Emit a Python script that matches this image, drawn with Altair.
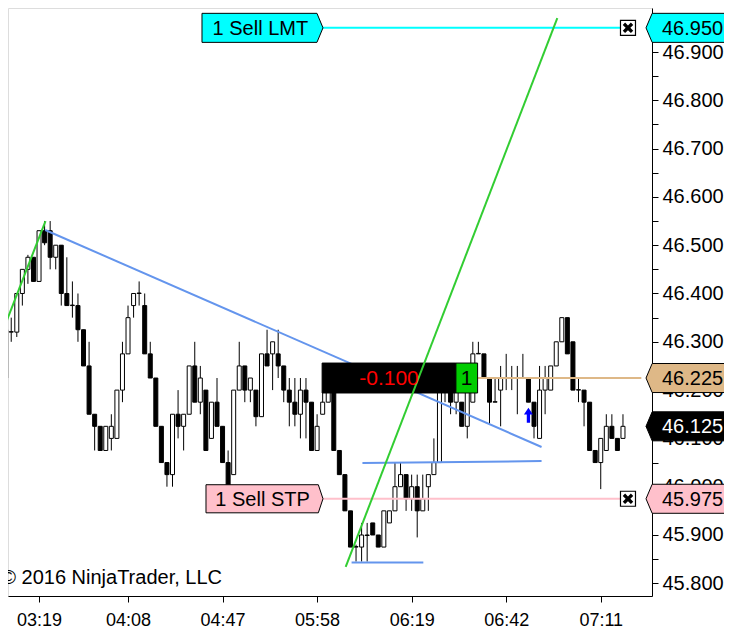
import json
import altair as alt
import pandas as pd

# ---------------- candle data (bar index, open, high, low, close) ----------------
bar_index = list(range(112))
opens = [46.225, 46.32, 46.32, 46.40, 46.45, 46.475, 46.425, 46.53, 46.53, 46.475,
         46.50, 46.40, 46.375, 46.375, 46.325, 46.25, 46.15, 46.125, 46.075, 46.10,
         46.10, 46.20, 46.275, 46.375, 46.40, 46.375, 46.275, 46.225, 46.125, 46.05,
         46.025, 46.15, 46.125, 46.15, 46.25, 46.175, 46.20, 46.10, 46.175, 46.125,
         46.05, 46.025, 46.20, 46.25, 46.20, 46.20, 46.145, 46.275, 46.275, 46.275,
         46.25, 46.20, 46.175, 46.15, 46.20, 46.175, 46.075, 46.15, 46.175, 46.225,
         46.075, 46.025, 45.95, 45.875, 45.875, 45.90, 45.925, 45.90, 45.875, 45.925,
         45.95, 46.00, 46.025, 45.975, 46.00, 45.95, 46.00, 46.025, 46.05, 46.225,
         46.20, 46.175, 46.175, 46.125, 46.175, 46.275, 46.275, 46.225, 46.175, 46.20,
         46.225, 46.225, 46.225, 46.225, 46.225, 46.175, 46.10, 46.20, 46.20, 46.25,
         46.30, 46.35, 46.30, 46.20, 46.20, 46.175, 46.075, 46.05, 46.075, 46.125,
         46.10, 46.10]
highs = [46.33, 46.35, 46.40, 46.45, 46.48, 46.475, 46.53, 46.55, 46.55, 46.50,
         46.50, 46.475, 46.425, 46.40, 46.325, 46.30, 46.15, 46.125, 46.125, 46.15,
         46.20, 46.30, 46.375, 46.40, 46.425, 46.40, 46.30, 46.225, 46.125, 46.05,
         46.15, 46.20, 46.15, 46.25, 46.30, 46.25, 46.20, 46.175, 46.225, 46.125,
         46.075, 46.20, 46.30, 46.25, 46.225, 46.20, 46.275, 46.325, 46.30, 46.325,
         46.25, 46.225, 46.225, 46.225, 46.225, 46.175, 46.15, 46.20, 46.225, 46.25,
         46.075, 46.025, 45.95, 45.88, 45.925, 45.925, 45.925, 45.90, 45.95, 45.95,
         46.05, 46.05, 46.025, 46.025, 46.025, 46.025, 46.025, 46.10, 46.25, 46.25,
         46.225, 46.225, 46.175, 46.25, 46.30, 46.30, 46.275, 46.225, 46.225, 46.25,
         46.275, 46.25, 46.25, 46.275, 46.225, 46.175, 46.25, 46.25, 46.25, 46.30,
         46.35, 46.35, 46.30, 46.225, 46.20, 46.175, 46.075, 46.10, 46.15, 46.15,
         46.10, 46.15]
lows = [46.20, 46.30, 46.31, 46.375, 46.42, 46.425, 46.425, 46.50, 46.45, 46.45,
        46.375, 46.375, 46.35, 46.30, 46.25, 46.15, 46.075, 46.075, 46.075, 46.075,
        46.10, 46.175, 46.275, 46.35, 46.375, 46.275, 46.225, 46.125, 46.05, 46.00,
        46.00, 46.10, 46.075, 46.15, 46.175, 46.15, 46.075, 46.10, 46.125, 46.05,
        46.00, 46.025, 46.20, 46.175, 46.175, 46.125, 46.145, 46.25, 46.20, 46.225,
        46.175, 46.125, 46.125, 46.10, 46.10, 46.075, 46.075, 46.15, 46.175, 46.075,
        46.025, 45.95, 45.875, 45.845, 45.845, 45.845, 45.90, 45.875, 45.875, 45.925,
        45.95, 46.00, 45.95, 45.95, 45.895, 45.95, 45.95, 46.025, 46.05, 46.175,
        46.15, 46.15, 46.125, 46.10, 46.175, 46.275, 46.225, 46.13, 46.175, 46.125,
        46.20, 46.20, 46.15, 46.225, 46.175, 46.10, 46.10, 46.15, 46.20, 46.25,
        46.30, 46.275, 46.20, 46.175, 46.125, 46.075, 46.05, 45.995, 46.075, 46.10,
        46.075, 46.10]
closes = [46.325, 46.321, 46.40, 46.45, 46.475, 46.425, 46.53, 46.505, 46.475, 46.50,
          46.40, 46.375, 46.376, 46.325, 46.25, 46.15, 46.125, 46.075, 46.125, 46.125,
          46.20, 46.275, 46.35, 46.40, 46.401, 46.275, 46.225, 46.125, 46.05, 46.025,
          46.15, 46.125, 46.15, 46.25, 46.175, 46.225, 46.075, 46.175, 46.125, 46.05,
          46.00, 46.20, 46.25, 46.20, 46.225, 46.145, 46.275, 46.25, 46.30, 46.25,
          46.20, 46.175, 46.15, 46.20, 46.175, 46.075, 46.125, 46.175, 46.20, 46.075,
          46.025, 45.95, 45.875, 45.876, 45.90, 45.899, 45.90, 45.875, 45.95, 45.95,
          46.00, 46.025, 45.975, 46.00, 45.95, 45.975, 46.025, 46.05, 46.225, 46.20,
          46.175, 46.20, 46.125, 46.20, 46.275, 46.276, 46.225, 46.175, 46.176, 46.225,
          46.226, 46.226, 46.226, 46.226, 46.175, 46.125, 46.20, 46.225, 46.25, 46.30,
          46.35, 46.275, 46.20, 46.201, 46.175, 46.075, 46.05, 46.10, 46.125, 46.10,
          46.075, 46.125]

# ---------------- axis labels ----------------
tick_bars = [6, 22, 39, 56, 73, 90, 107]
tick_times = ["03:19", "04:08", "04:47", "05:58", "06:19", "06:42", "07:11"]
price_ticks = [45.80, 45.85, 45.90, 45.95, 46.00, 46.05, 46.10, 46.15, 46.20, 46.25,
               46.30, 46.35, 46.40, 46.45, 46.50, 46.55, 46.60, 46.65, 46.70, 46.75,
               46.80, 46.85, 46.90, 46.95]

# ---------------- drawing objects ----------------
trend_color = ["limegreen", "limegreen", "cornflowerblue", "cornflowerblue", "cornflowerblue"]
trend_x1 = [-0.1, 61.14, 7.11, 64.15, 62.2]
trend_y1 = [46.335, 45.834, 46.5315, 46.049, 45.843]
trend_x2 = [7.16, 99.19, 96.36, 96.36, 75.1]
trend_y2 = [46.55, 46.97, 46.0822, 46.053, 45.843]

order_price = [46.950, 45.975, 46.225]
order_color = ["#00FFFF", "#FFC0CB", "#DEB887"]
order_x1 = [56.9, 56.9, 84.86]
order_x2 = [112.0, 112.0, 114.3]

order_label_text = ["1 Sell LMT", "1 Sell STP"]
order_label_price = [46.950, 45.975]
order_label_center = [46.18, 46.54]
order_label_textx = [37.2, 37.7]
order_label_fill = ["#00FFFF", "#FFC0CB"]

close_box_bar = [111.9, 111.9]
close_box_price = [46.950, 45.975]

flag_price = [46.950, 46.225, 46.125, 45.975]
flag_text = ["46.950", "46.225", "46.125", "45.975"]
flag_fill = ["#00FFFF", "#DEB887", "#000000", "#FFC0CB"]
flag_textcolor = ["black", "black", "white", "black"]

pnl_x = [56.9, 80.96]
pnl_x2 = [80.96, 84.86]
pnl_fill = ["black", "#00CC00"]
pnl_text = ["-0.100", "1"]
pnl_text_x = [68.93, 82.9]
pnl_text_color = ["#FF0000", "black"]
position_price = 46.225
pnl_lo, pnl_hi = 46.194, 46.256

exec_bar = [94.0]
exec_price = [46.148]

copyright_text = ["\u00a9 2016 NinjaTrader, LLC"]
copyright_bar = [-0.8]
copyright_price = [45.811]

FONT = "Liberation Sans"

xs = alt.Scale(domain=[1.3186, 115.3186], nice=False, zero=False)
ys = alt.Scale(domain=[45.7737, 46.9911], nice=False, zero=False)

x_axis = alt.Axis(
    orient="bottom", values=tick_bars, title=None, grid=False,
    labelExpr=json.dumps(tick_times) + "[indexof(" + json.dumps(tick_bars) + ", datum.value)]",
    tickSize=6, labelPadding=9, labelFontSize=18, labelFont=FONT, labelColor="black",
    domainColor="black", tickColor="black", labelOverlap=False, labelFlush=False,
)
y_axis = alt.Axis(
    orient="right", values=price_ticks, title=None, grid=False,
    labelExpr="round(datum.value*100) % 10 == 0 ? format(datum.value, '.3f') : ''",
    tickSize=6, labelPadding=4, labelFontSize=20, labelFont=FONT, labelColor="black",
    domainColor="black", tickColor="black", labelOverlap=False, labelFlush=False,
)


def X(f):
    return alt.X(f, type="quantitative", scale=xs, axis=x_axis)


def Y(f):
    return alt.Y(f, type="quantitative", scale=ys, axis=y_axis)


candles = pd.DataFrame({"k": bar_index, "O": opens, "H": highs, "L": lows, "C": closes})

wicks = alt.Chart(candles).mark_rule(color="black", strokeWidth=1, clip=True).encode(
    x=X("k"), y=Y("L"), y2="H")

bodies = alt.Chart(candles).mark_bar(size=4, stroke="black", strokeWidth=1, clip=True).encode(
    x=X("k"), y=Y("O"), y2="C",
    fill=alt.condition("datum.C >= datum.O", alt.value("white"), alt.value("black")))

trends = pd.DataFrame({"x1": trend_x1, "y1": trend_y1, "x2": trend_x2, "y2": trend_y2,
                       "c": trend_color})
blue_lines = alt.Chart(trends[trends.c == "cornflowerblue"]).mark_rule(
    strokeWidth=2, clip=True).encode(
    x=X("x1"), y=Y("y1"), x2="x2", y2="y2", color=alt.Color("c:N", scale=None))
green_lines = alt.Chart(trends[trends.c == "limegreen"]).mark_rule(
    strokeWidth=2, clip=True).encode(
    x=X("x1"), y=Y("y1"), x2="x2", y2="y2", color=alt.Color("c:N", scale=None))

orders = pd.DataFrame({"p": order_price, "c": order_color, "x1": order_x1, "x2": order_x2})
order_lines = alt.Chart(orders).mark_rule(strokeWidth=2).encode(
    x=X("x1"), x2="x2", y=Y("p"), color=alt.Color("c:N", scale=None))

pnl = pd.DataFrame({"x1": pnl_x, "x2": pnl_x2, "f": pnl_fill, "lo": [pnl_lo] * 2, "hi": [pnl_hi] * 2})
pnl_box = alt.Chart(pnl).mark_rect(stroke="black", strokeWidth=1).encode(
    x=X("x1"), x2="x2", y=Y("lo"), y2="hi", fill=alt.Fill("f:N", scale=None))
pnl_df = pd.DataFrame({"x": pnl_text_x, "t": pnl_text, "c": pnl_text_color,
                       "p": [position_price] * 2})
pnl_labels = alt.Chart(pnl_df).mark_text(font=FONT, fontSize=21, align="center",
                                         baseline="middle", dy=1).encode(
    x=X("x"), y=Y("p"), text="t:N", color=alt.Color("c:N", scale=None))

# order label tags (pointing right)
tag_path_lmt = "M-1,-0.24 L0.9,-0.24 L1,0 L0.9,0.24 L-1,0.24 Z"
tag_path_stp = "M-1,-0.24 L0.92,-0.24 L1,0 L0.92,0.24 L-1,0.24 Z"
ol = pd.DataFrame({"t": order_label_text, "p": order_label_price, "xc": order_label_center,
                   "xt": order_label_textx, "f": order_label_fill})
tag_lmt = alt.Chart(ol.iloc[[0]]).mark_point(
    shape=tag_path_lmt, size=121 * 121, filled=True, opacity=1, stroke="black",
    strokeWidth=1, strokeOpacity=1).encode(
    x=X("xc"), y=Y("p"), fill=alt.Fill("f:N", scale=None))
tag_stp = alt.Chart(ol.iloc[[1]]).mark_point(
    shape=tag_path_stp, size=117 * 117, filled=True, opacity=1, stroke="black",
    strokeWidth=1, strokeOpacity=1).encode(
    x=X("xc"), y=Y("p"), fill=alt.Fill("f:N", scale=None))
tag_text = alt.Chart(ol).mark_text(font=FONT, fontSize=20, align="left", baseline="middle",
                                   color="black", dy=1).encode(
    x=X("xt"), y=Y("p"), text="t:N")

cb = pd.DataFrame({"k": close_box_bar, "p": close_box_price})
close_sq = alt.Chart(cb).mark_square(size=225, fill="white", stroke="black", strokeWidth=1.2,
                                      opacity=1).encode(x=X("k"), y=Y("p"))
x_path = ("M-1,-0.55 L-0.55,-1 L0,-0.45 L0.55,-1 L1,-0.55 L0.45,0 L1,0.55 L0.55,1 "
          "L0,0.45 L-0.55,1 L-1,0.55 L-0.45,0 Z")
close_x = alt.Chart(cb).mark_point(shape=x_path, size=110, filled=True, fill="black",
                                   opacity=1, strokeWidth=0).encode(x=X("k"), y=Y("p"))

arrow_path = "M0,-1 L0.6,-0.1 L0.22,-0.1 L0.22,1 L-0.22,1 L-0.22,-0.1 L-0.6,-0.1 Z"
ex = pd.DataFrame({"k": exec_bar, "p": exec_price})
exec_arrow = alt.Chart(ex).mark_point(shape=arrow_path, size=225, filled=True, fill="#0000FF",
                                      opacity=1, strokeWidth=0).encode(x=X("k"), y=Y("p"))

# price flags on the right axis (pointing left)
flag_path = "M-1,0 L-0.86,-0.33 L1,-0.33 L1,0.33 L-0.86,0.33 Z"
fl = pd.DataFrame({"p": flag_price, "t": flag_text, "f": flag_fill, "tc": flag_textcolor})
flags = alt.Chart(fl).mark_point(shape=flag_path, size=88 * 88, filled=True, opacity=1,
                                 stroke="black", strokeWidth=1, strokeOpacity=1).encode(
    x=alt.value(682), y=Y("p"), fill=alt.Fill("f:N", scale=None))
flag_labels = alt.Chart(fl).mark_text(font=FONT, fontSize=20, align="left",
                                      baseline="middle", dy=1).encode(
    x=alt.value(654), y=Y("p"), text="t:N", color=alt.Color("tc:N", scale=None))

cr = pd.DataFrame({"k": copyright_bar, "p": copyright_price, "t": copyright_text})
copyright = alt.Chart(cr).mark_text(font=FONT, fontSize=20, align="left", baseline="middle",
                                    color="black", clip=True).encode(
    x=X("k"), y=Y("p"), text="t:N")

chart = alt.layer(
    wicks, bodies, blue_lines, order_lines, pnl_box, green_lines, pnl_labels,
    tag_lmt, tag_stp, tag_text, close_sq, close_x, exec_arrow, flags, flag_labels, copyright,
).properties(
    width=644, height=588,
    autosize=alt.AutoSizeParams(type="none"),
    padding={"left": 0, "top": 0, "right": 72, "bottom": 32},
).configure_view(strokeWidth=0).configure(font=FONT)

chart.save("out.html", embed_options={"renderer": "svg", "actions": False})
